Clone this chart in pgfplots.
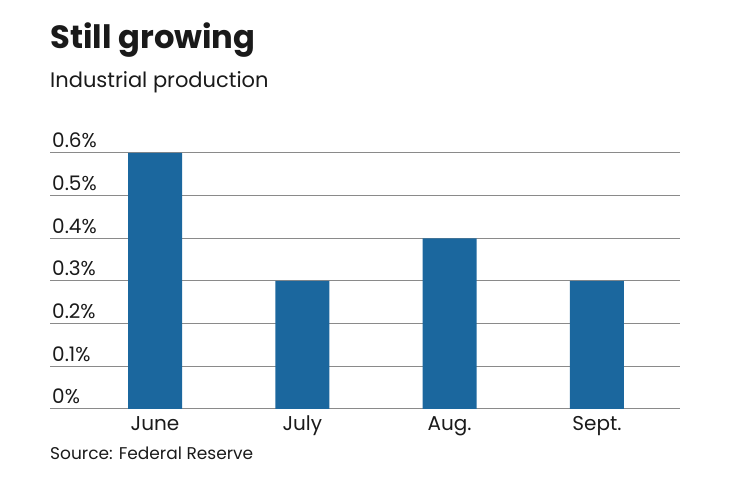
\documentclass[border=0pt]{standalone}
\usepackage{pgfplots}
\pgfplotsset{compat=1.18}
\usepackage{fontspec}
\setmainfont{Poppins}
\definecolor{barblue}{HTML}{1B679E}
\definecolor{gridgray}{HTML}{8A8A8A}
\definecolor{txt}{HTML}{1A1A1A}
\begin{document}
\begin{tikzpicture}[x=1bp,y=1bp]
\useasboundingbox (0,0) rectangle (740,482);
\node[anchor=base west,inner sep=0pt,text=txt] at (50,433) {\fontsize{32.2bp}{36bp}\selectfont\bfseries Still growing};
\node[anchor=base west,inner sep=0pt,text=txt] at (50,394) {\fontsize{21bp}{25bp}\selectfont Industrial production};
\node[anchor=base west,inner sep=0pt,text=txt] at (50,22) {\fontsize{17bp}{20bp}\selectfont Source: Federal Reserve};
\begin{axis}[
  at={(50bp,73bp)}, anchor=south west,
  scale only axis, width=630bp, height=256bp,
  xmin=-0.713, xmax=3.564, ymin=0, ymax=0.6,
  axis line style={draw=none},
  ybar, bar width=54bp, bar shift=0pt,
  xtick=data, xticklabels={June,July,Aug.,Sept.},
  ytick={0,0.1,0.2,0.3,0.4,0.5,0.6},
  yticklabels={0\%,0.1\%,0.2\%,0.3\%,0.4\%,0.5\%,0.6\%},
  major tick length=0pt,
  ymajorgrids, grid style={gridgray, line width=1bp},
  yticklabel style={anchor=base west, inner sep=0pt, xshift=2bp, yshift=5bp, font=\fontsize{20bp}{24bp}\selectfont, text=txt},
  xticklabel style={anchor=base, inner sep=0pt, yshift=-22bp, font=\fontsize{20bp}{24bp}\selectfont, text=txt},
  clip=false,
]
\addplot[fill=barblue, draw=none] coordinates {(0,0.6) (1,0.3) (2,0.4) (3,0.3)};
\end{axis}
\end{tikzpicture}
\end{document}
